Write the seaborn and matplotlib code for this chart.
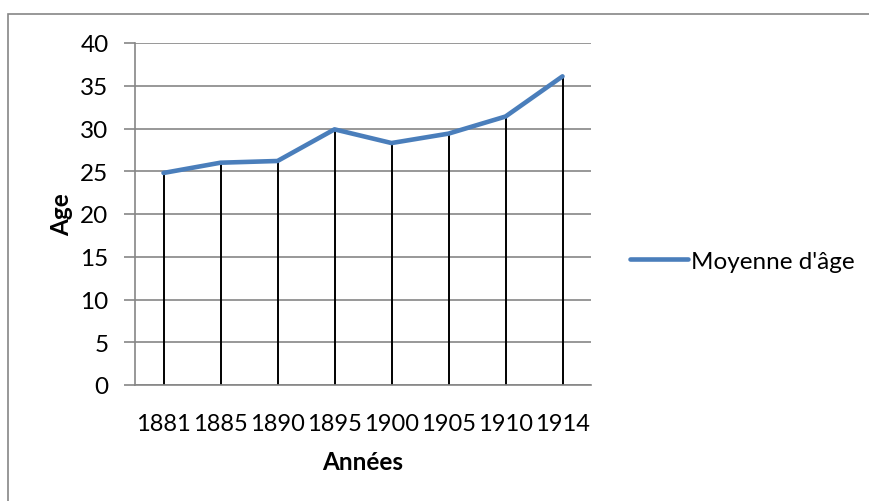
import seaborn as sns
import matplotlib.pyplot as plt
import pandas as pd
from matplotlib.patches import Rectangle

# values
years = ['1881', '1885', '1890', '1895', '1900', '1905', '1910', '1914']
avg_age = [24.8, 26.0, 26.2, 29.9, 28.3, 29.4, 31.4, 36.1]
y_ticks = [0, 5, 10, 15, 20, 25, 30, 35, 40]

df = pd.DataFrame({'Année': years, 'Age': avg_age})

sns.set_style("white")
plt.rcParams['font.family'] = ['Lato', 'DejaVu Sans']
plt.rcParams['text.color'] = 'black'
plt.rcParams['axes.labelcolor'] = 'black'
plt.rcParams['xtick.color'] = 'black'
plt.rcParams['ytick.color'] = 'black'

grey = '#868686'
blue = '#4A7EBB'
fs = 17.5

fig = plt.figure(figsize=(8.7, 5.02), dpi=100)
ax = fig.add_axes([135 / 870, 1 - 386 / 502, 456 / 870, 342 / 502])

# outer chart frame, cut by the image edges like the reference
fig.patches.append(Rectangle((8 / 870, -0.1), 1.2, 0.1 + (1 - 15 / 502),
                             transform=fig.transFigure, fill=False,
                             edgecolor=grey, linewidth=1.2, zorder=0))

# drop lines from each point to the axis
ax.vlines(range(len(years)), 0, avg_age, color='black', linewidth=1.4, zorder=2)

sns.lineplot(data=df, x='Année', y='Age', ax=ax, color=blue, linewidth=3.3,
             label="Moyenne d'âge", zorder=3, solid_capstyle='round')

ax.set_xlim(-0.5, len(years) - 0.5)
ax.set_ylim(0, 40)
ax.set_yticks(y_ticks)
ax.yaxis.grid(True, color=grey, linewidth=1.2)
ax.set_axisbelow(True)

for s in ['top', 'right']:
    ax.spines[s].set_visible(False)
ax.spines['left'].set_color(grey)
ax.spines['left'].set_linewidth(1.2)
ax.spines['bottom'].set_color(grey)
ax.spines['bottom'].set_linewidth(1.2)

ax.tick_params(axis='y', length=8, width=1.2, color=grey, labelsize=fs, pad=11, left=True)
ax.tick_params(axis='x', length=0, labelsize=fs - 0.5, pad=20)

ax.set_xlabel('Années', fontsize=fs, fontweight='bold', labelpad=12)
ax.set_ylabel('Age', fontsize=fs, fontweight='bold', labelpad=5)

ax.legend(loc='center left', bbox_to_anchor=(630 / 870, 1 - 262 / 502),
          bbox_transform=fig.transFigure, frameon=False, fontsize=fs,
          borderpad=0, borderaxespad=0, handlelength=2.4, handletextpad=0.12)

fig.savefig('out.png', dpi=100)
